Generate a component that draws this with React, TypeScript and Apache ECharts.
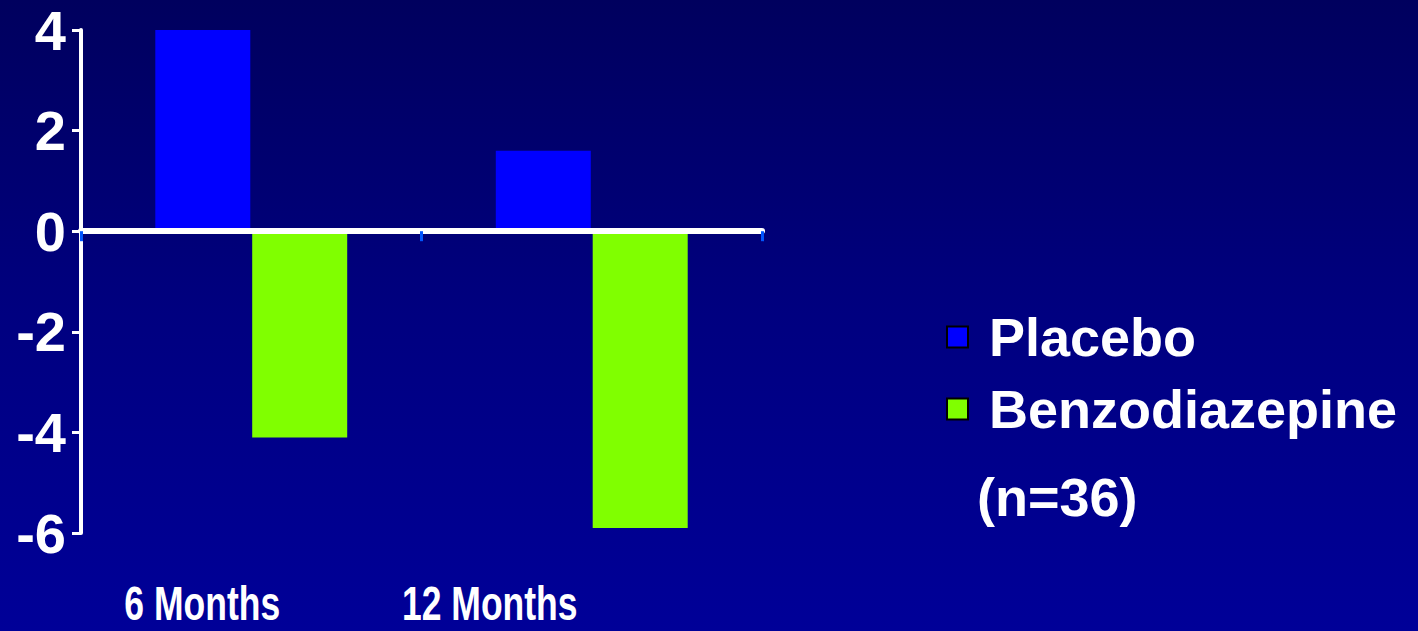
import React, { useEffect, useRef } from "react";
import * as echarts from "echarts";

// Change from baseline by treatment group
const categories = ["6 Months", "12 Months"];
const placeboValues = [4.0, 1.6];
const benzoValues = [-4.1, -5.9];
const yTicks = { min: -6, max: 4, interval: 2 };
const seriesNames = ["Placebo", "Benzodiazepine"];
const sampleNote = "(n=36)";
// horizontal shift of each category caption from its band centre
const captionShift = [-49, -102];

const FONT = '"Liberation Sans", Arial, sans-serif';

export default function App() {
  const ref = useRef<HTMLDivElement>(null);

  useEffect(() => {
    if (!ref.current) return;
    const chart = echarts.init(ref.current, undefined, { renderer: "svg" });
    chart.setOption({
      animation: false,
      backgroundColor: new echarts.graphic.LinearGradient(0, 0, 0, 1, [
        { offset: 0, color: "#00005e" },
        { offset: 0.5, color: "#000080" },
        { offset: 1, color: "#000098" },
      ]),
      grid: {
        left: 81,
        right: 656,
        top: 30,
        bottom: 98,
        containLabel: false,
        outerBoundsMode: "none",
      },
      legend: {
        orient: "vertical",
        left: 941,
        top: 305,
        itemWidth: 21,
        itemHeight: 21,
        itemGap: 18,
        icon: "rect",
        data: seriesNames,
        itemStyle: { borderColor: "#000000", borderWidth: 2 },
        textStyle: {
          color: "#ffffff",
          fontFamily: FONT,
          fontWeight: "bold",
          fontSize: 54,
          padding: [0, 0, 0, 16],
        },
      },
      xAxis: {
        type: "category",
        data: categories,
        z: 10,
        axisLine: { onZero: true, lineStyle: { color: "#ffffff", width: 6 } },
        axisTick: {
          show: true,
          length: 10,
          lineStyle: { color: "#0055ff", width: 3 },
        },
        axisLabel: { show: false },
      },
      yAxis: {
        type: "value",
        min: yTicks.min,
        max: yTicks.max,
        interval: yTicks.interval,
        splitLine: { show: false },
        axisLine: { show: true, lineStyle: { color: "#ffffff", width: 4 } },
        axisTick: { show: true, length: 9, lineStyle: { color: "#ffffff", width: 3 } },
        axisLabel: {
          color: "#ffffff",
          fontFamily: FONT,
          fontWeight: "bold",
          fontSize: 56,
          margin: 15,
        },
      },
      series: [
        {
          name: seriesNames[0],
          type: "bar",
          data: placeboValues,
          barWidth: 95,
          barGap: "2%",
          itemStyle: { color: "#0000ff" },
        },
        {
          name: seriesNames[1],
          type: "bar",
          data: benzoValues,
          barWidth: 95,
          barGap: "2%",
          itemStyle: { color: "#80ff00" },
        },
      ],
    });

    // Condensed category captions along the bottom, placed from the axis scale
    const captions = categories.map((c, i) => {
      const px = chart.convertToPixel({ xAxisIndex: 0 }, c) as number;
      return {
        type: "text",
        x: px + captionShift[i],
        y: 604,
        scaleX: 0.74,
        style: {
          text: c,
          fill: "#ffffff",
          font: `bold 48px ${FONT}`,
          lineHeight: 40,
          align: "center",
          verticalAlign: "middle",
        },
      };
    });

    chart.setOption({
      graphic: [
        {
          type: "text",
          left: 977,
          top: 470,
          style: {
            text: sampleNote,
            fill: "#ffffff",
            font: `bold 54px ${FONT}`,
          },
        },
        ...captions,
      ],
    });
    return () => chart.dispose();
  }, []);

  return (
    <div
      ref={ref}
      style={{ position: "fixed", left: 0, top: 0, width: 1418, height: 631 }}
    />
  );
}
